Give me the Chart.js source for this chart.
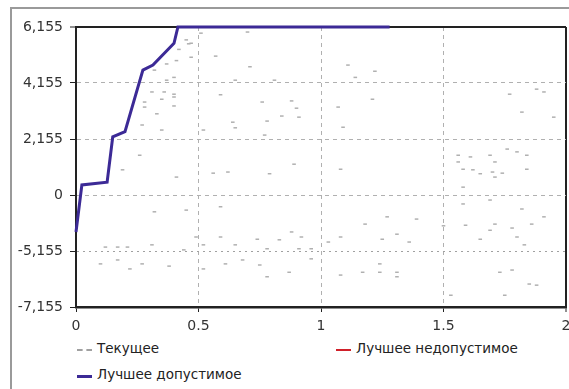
<!DOCTYPE html>
<html><head><meta charset="utf-8">
<script src="https://cdn.jsdelivr.net/npm/chart.js@4/dist/chart.umd.min.js"></script>
<style>
html,body{margin:0;padding:0;background:#fff;width:569px;height:389px;overflow:hidden;}
#frame{position:absolute;left:10px;top:7px;width:600px;height:400px;border-top:2px solid #9a9a9a;border-left:2px solid #9a9a9a;}
#wrap{position:absolute;left:0;top:0;width:585px;height:335px;}
.lg{position:absolute;font-family:"DejaVu Sans",sans-serif;font-size:13.5px;color:#222;white-space:nowrap;line-height:15px;}
.mk{position:absolute;width:15px;height:0;}
</style></head>
<body>
<div id="frame"></div>
<div id="wrap"><canvas id="c"></canvas></div>
<div class="mk" style="left:77px;top:349px;border-top:2px dashed #a0a0a0;"></div>
<div class="lg" style="left:97px;top:341px;">Текущее</div>
<div class="mk" style="left:336px;top:349px;border-top:2px solid #d0202a;"></div>
<div class="lg" style="left:356px;top:341px;">Лучшее недопустимое</div>
<div class="mk" style="left:77px;top:375px;border-top:3px solid #3c2a96;"></div>
<div class="lg" style="left:97px;top:367px;">Лучшее допустимое</div>
<script>
const yTickValues = [-2, -1, 0, 1, 2, 3];
const yTickLabels = ['-7,155', '-5,155', '0', '2,155', '4,155', '6,155'];
const xTickLabels = ['0', '0.5', '1', '1.5', '2'];

const bestX = [0, 0.024, 0.127, 0.15, 0.2, 0.273, 0.314, 0.40, 0.416, 1.28];
const bestY = [-0.66, 0.18, 0.23, 1.04, 1.13, 2.23, 2.32, 2.71, 3.0, 3.0];

const currentX = [0.45,0.46,0.42,0.47,0.37,0.41,0.32,0.37,0.40,0.31,0.36,0.40,0.40,0.35,0.28,0.28,0.40,0.33,0.27,0.35,0.57,0.59,0.64,0.52,0.65,0.26,0.51,0.70,0.47,0.71,0.76,0.88,0.90,0.84,0.91,0.78,1.11,1.22,1.14,1.21,1.07,1.09,0.77,0.89,0.81,0.65,
1.88,1.91,1.77,1.82,1.95,1.76,1.80,1.84,1.56,1.61,1.69,1.56,1.71,
1.58,1.62,1.65,1.70,1.74,1.71,1.84,1.58,1.58,1.69,1.82,1.91,1.39,1.50,1.59,1.71,1.86,1.69,1.78,1.65,1.80,1.83,1.36,1.73,1.78,1.88,1.53,1.75,1.85,
0.19,0.41,0.56,0.62,0.32,0.45,0.59,0.49,0.59,0.12,0.17,0.21,0.31,0.52,0.65,0.44,0.10,0.17,0.27,0.38,0.52,0.61,0.22,
0.79,1.08,1.27,1.18,0.88,0.74,0.83,0.92,1.03,1.08,1.25,1.31,0.78,0.91,0.96,0.68,0.75,0.96,0.87,0.78,1.08,1.17,1.24,1.24,1.31,1.31];
const currentY = [2.77,2.7,2.6,2.46,2.34,2.4,2.23,2.05,2.1,1.84,1.84,1.8,1.75,1.71,1.66,1.57,1.59,1.45,1.25,1.16,2.48,1.79,1.3,1.16,2.05,0.71,2.89,2.91,2.71,2.29,1.66,1.68,1.55,1.41,1.39,1.32,2.32,2.21,2.1,1.71,1.57,1.21,1.07,0.55,2.05,1.2,
1.89,1.84,1.8,1.48,1.39,0.82,0.77,0.71,0.71,0.68,0.71,0.59,0.59,
0.46,0.45,0.38,0.41,0.39,0.32,0.46,0.14,-0.16,-0.09,-0.25,-0.39,-0.43,-0.55,-0.54,-0.52,-0.52,-0.63,-0.59,-0.79,-0.75,-0.89,-0.84,-1.38,-1.34,-1.61,-1.79,-1.79,-1.59,
0.45,0.32,0.39,0.41,-0.30,-0.27,-0.21,-0.75,-0.75,-0.93,-0.93,-0.93,-0.89,-0.89,-0.89,-0.98,-1.23,-1.16,-1.23,-1.27,-1.32,-1.23,-1.32,
0.38,0.46,-0.39,-0.52,-0.66,-0.79,-0.80,-0.75,-0.84,-0.75,-0.79,-0.70,-0.96,-0.96,-0.96,-1.16,-1.25,-1.14,-1.38,-1.46,-1.43,-1.38,-1.38,-1.23,-1.38,-1.46];

const infeasibleX = [];
const infeasibleY = [];

const toPts = (xs, ys) => xs.map((x, i) => ({x: x, y: ys[i]}));

const FONT = {family: 'DejaVu Sans', size: 14};

new Chart(document.getElementById('c'), {
  type: 'scatter',
  data: {
    datasets: [
      {label: 'Лучшее допустимое', data: toPts(bestX, bestY), showLine: true,
       borderColor: '#3c2a96', borderWidth: 3, pointRadius: 0, tension: 0, order: 0, clip: 6},
      {label: 'Лучшее недопустимое', data: toPts(infeasibleX, infeasibleY), showLine: true,
       borderColor: '#d0202a', borderWidth: 2, pointRadius: 0, order: 1},
      {label: 'Текущее', data: toPts(currentX, currentY), showLine: false,
       pointStyle: 'line', pointRadius: 1.8, borderColor: '#b0b0b0', borderWidth: 1.5, order: 2}
    ]
  },
  options: {
    responsive: true, maintainAspectRatio: false, animation: false,
    layout: {padding: {left: 0, top: 27, right: 19, bottom: 0}},
    plugins: {legend: {display: false}, tooltip: {enabled: false}},
    scales: {
      x: {
        type: 'linear', min: 0, max: 2,
        afterBuildTicks: s => { s.ticks = [0, 0.5, 1, 1.5, 2].map(v => ({value: v})); },
        afterFit: s => { s.height = 28; },
        ticks: {font: FONT, color: '#333', padding: 6, maxRotation: 0,
                callback: (v, i) => xTickLabels[i]},
        grid: {
          tickLength: 5, tickColor: '#222', tickWidth: 1,
          color: c => (c.tick && c.tick.value === 2) ? '#222' : (c.tick && c.tick.value === 0 ? 'rgba(0,0,0,0)' : '#b0b0b0'),
          lineWidth: c => (c.tick && c.tick.value === 2) ? 2 : 1
        },
        border: {color: '#222', width: 2.5,
                dash: c => (c.tick && c.tick.value === 2) ? [] : [4, 4]}
      },
      y: {
        type: 'linear', min: -2, max: 3,
        afterBuildTicks: s => { s.ticks = yTickValues.map(v => ({value: v})); },
        afterFit: s => { s.width = 76; },
        ticks: {font: FONT, color: '#333', padding: 7,
                callback: (v) => yTickLabels[yTickValues.indexOf(v)]},
        grid: {
          tickLength: 6, tickColor: '#222', tickWidth: 1,
          color: c => {
            const v = c.tick && c.tick.value;
            if (v === 3) return '#222';
            if (v === -2) return 'rgba(0,0,0,0)';
            if (v === -1) return '#a0a0a0';
            return '#b0b0b0';
          },
          lineWidth: c => (c.tick && c.tick.value === 3) ? 2 : 1
        },
        border: {color: '#222', width: 2,
                dash: c => {
                  const v = c.tick && c.tick.value;
                  if (v === 3) return [];
                  if (v === -1) return [2, 4];
                  return [4, 4];
                }}
      }
    }
  }
});
</script>
</body></html>
